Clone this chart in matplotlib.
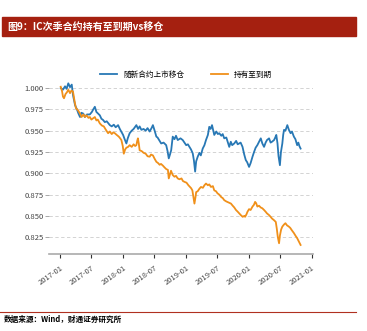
import matplotlib
matplotlib.use("Agg")
import matplotlib.pyplot as plt
import matplotlib.dates as mdates
import pandas as pd

plt.rcParams['font.family'] = ['Noto Sans CJK SC', 'DejaVu Sans']

title = "图9：IC次季合约持有至到期vs移仓"
source = "数据来源：Wind，财通证券研究所"
label_roll = "随新合约上市移仓"
label_hold = "持有至到期"

# 随新合约上市移仓
roll_dates = [
    "2017-01-05", "2017-01-18", "2017-01-30", "2017-02-08", "2017-02-18", "2017-02-28",
    "2017-03-10", "2017-03-17", "2017-03-29", "2017-04-09", "2017-04-18", "2017-04-27",
    "2017-05-05", "2017-05-16", "2017-05-25", "2017-06-06", "2017-06-23", "2017-07-05",
    "2017-07-13", "2017-07-22", "2017-07-31", "2017-08-10", "2017-08-20", "2017-08-29",
    "2017-09-08", "2017-09-18", "2017-09-29", "2017-10-17", "2017-10-28", "2017-11-09",
    "2017-11-20", "2017-12-04", "2017-12-14", "2017-12-22", "2018-01-02", "2018-01-11",
    "2018-01-21", "2018-01-29", "2018-02-09", "2018-02-21", "2018-03-04", "2018-03-20",
    "2018-03-30", "2018-04-08", "2018-04-18", "2018-05-01", "2018-05-13", "2018-05-24",
    "2018-06-05", "2018-06-16", "2018-06-24", "2018-07-04", "2018-07-14", "2018-07-21",
    "2018-08-02", "2018-08-11", "2018-08-25", "2018-09-09", "2018-09-17", "2018-09-24",
    "2018-10-01", "2018-10-08", "2018-10-17", "2018-10-27", "2018-11-05", "2018-11-15",
    "2018-12-01", "2018-12-14", "2018-12-24", "2019-01-03", "2019-01-13", "2019-01-22",
    "2019-01-31", "2019-02-10", "2019-02-17", "2019-02-24", "2019-03-02", "2019-03-11",
    "2019-03-21", "2019-03-29", "2019-04-09", "2019-04-19", "2019-04-28", "2019-05-09",
    "2019-05-17", "2019-05-25", "2019-06-02", "2019-06-09", "2019-06-15", "2019-06-27",
    "2019-07-06", "2019-07-14", "2019-07-26", "2019-08-03", "2019-08-12", "2019-08-24",
    "2019-09-01", "2019-09-10", "2019-09-19", "2019-09-27", "2019-10-09", "2019-10-20",
    "2019-10-29", "2019-11-07", "2019-11-15", "2019-11-26", "2019-12-06", "2019-12-15",
    "2019-12-23", "2019-12-29", "2020-01-03", "2020-01-12", "2020-01-23", "2020-02-01",
    "2020-02-10", "2020-02-20", "2020-03-01", "2020-03-11", "2020-03-20", "2020-03-30",
    "2020-04-08", "2020-04-16", "2020-04-28", "2020-05-07", "2020-05-15", "2020-05-27",
    "2020-06-03", "2020-06-09", "2020-06-16", "2020-06-22", "2020-06-30", "2020-07-06",
    "2020-07-14", "2020-07-19", "2020-07-24", "2020-08-01", "2020-08-12", "2020-08-21",
    "2020-08-31", "2020-09-08", "2020-09-19", "2020-09-28", "2020-10-08", "2020-10-15",
    "2020-10-21", "2020-10-28",
]
roll_values = [
    1.000, 0.998, 1.002, 0.999, 1.0055, 1.001,
    1.004, 0.992, 0.980, 0.975, 0.970, 0.966,
    0.971, 0.970, 0.966, 0.969, 0.969, 0.972,
    0.975, 0.978, 0.972, 0.970, 0.968, 0.964,
    0.9625, 0.960, 0.961, 0.9565, 0.955, 0.957,
    0.954, 0.9565, 0.952, 0.949, 0.945, 0.940,
    0.935, 0.941, 0.947, 0.950, 0.952, 0.9565,
    0.952, 0.955, 0.951, 0.952, 0.950, 0.953,
    0.949, 0.953, 0.9565, 0.950, 0.943, 0.942,
    0.938, 0.935, 0.936, 0.933, 0.926, 0.9175,
    0.922, 0.927, 0.943, 0.940, 0.944, 0.939,
    0.941, 0.939, 0.936, 0.933, 0.934, 0.931,
    0.928, 0.9235, 0.915, 0.902, 0.914, 0.9195,
    0.924, 0.921, 0.929, 0.933, 0.939, 0.945,
    0.9545, 0.952, 0.9565, 0.950, 0.945, 0.949,
    0.946, 0.947, 0.944, 0.946, 0.941, 0.942,
    0.937, 0.931, 0.937, 0.933, 0.935, 0.938,
    0.934, 0.935, 0.936, 0.931, 0.922, 0.9155,
    0.913, 0.910, 0.9075, 0.912, 0.9195, 0.925,
    0.930, 0.933, 0.937, 0.941, 0.935, 0.931,
    0.936, 0.939, 0.941, 0.936, 0.937, 0.939,
    0.942, 0.945, 0.935, 0.920, 0.9095, 0.925,
    0.935, 0.945, 0.951, 0.950, 0.9565, 0.951,
    0.947, 0.949, 0.943, 0.940, 0.933, 0.936,
    0.932, 0.929,
]

# 持有至到期
hold_dates = [
    "2017-01-05", "2017-01-13", "2017-01-18", "2017-01-24", "2017-02-02", "2017-02-10",
    "2017-02-18", "2017-02-28", "2017-03-08", "2017-03-17", "2017-03-26", "2017-04-03",
    "2017-04-15", "2017-04-27", "2017-05-06", "2017-05-17", "2017-05-25", "2017-06-04",
    "2017-06-15", "2017-06-23", "2017-07-02", "2017-07-12", "2017-07-22", "2017-07-31",
    "2017-08-08", "2017-08-20", "2017-09-01", "2017-09-12", "2017-09-24", "2017-10-07",
    "2017-10-17", "2017-10-28", "2017-11-06", "2017-11-15", "2017-11-26", "2017-12-08",
    "2017-12-16", "2017-12-23", "2017-12-31", "2018-01-06", "2018-01-14", "2018-01-21",
    "2018-01-31", "2018-02-09", "2018-02-21", "2018-03-04", "2018-03-13", "2018-03-20",
    "2018-03-25", "2018-03-29", "2018-04-03", "2018-04-08", "2018-04-20", "2018-05-01",
    "2018-05-13", "2018-05-24", "2018-06-05", "2018-06-13", "2018-06-24", "2018-07-04",
    "2018-07-14", "2018-07-24", "2018-08-02", "2018-08-10", "2018-08-21", "2018-08-30",
    "2018-09-09", "2018-09-19", "2018-09-24", "2018-10-01", "2018-10-07", "2018-10-17",
    "2018-10-27", "2018-11-05", "2018-11-15", "2018-11-25", "2018-12-07", "2018-12-15",
    "2018-12-24", "2019-01-05", "2019-01-16", "2019-01-25", "2019-02-01", "2019-02-08",
    "2019-02-14", "2019-02-20", "2019-02-26", "2019-03-02", "2019-03-11", "2019-03-21",
    "2019-03-30", "2019-04-10", "2019-04-19", "2019-04-28", "2019-05-09", "2019-05-17",
    "2019-05-27", "2019-06-07", "2019-06-15", "2019-06-25", "2019-07-04", "2019-07-14",
    "2019-07-26", "2019-08-03", "2019-08-12", "2019-08-24", "2019-09-04", "2019-09-20",
    "2019-09-30", "2019-10-09", "2019-10-19", "2019-10-29", "2019-11-07", "2019-11-16",
    "2019-11-27", "2019-12-06", "2019-12-11", "2019-12-19", "2019-12-25", "2020-01-03",
    "2020-01-12", "2020-01-23", "2020-01-31", "2020-02-07", "2020-02-13", "2020-02-20",
    "2020-03-01", "2020-03-10", "2020-03-20", "2020-03-30", "2020-04-08", "2020-04-16",
    "2020-04-28", "2020-05-07", "2020-05-15", "2020-05-27", "2020-06-06", "2020-06-12",
    "2020-06-18", "2020-06-25", "2020-06-30", "2020-07-07", "2020-07-14", "2020-07-24",
    "2020-08-01", "2020-08-10", "2020-08-21", "2020-08-29", "2020-09-08", "2020-09-19",
    "2020-09-28", "2020-10-08", "2020-10-18", "2020-10-28",
]
hold_values = [
    1.0015, 0.996, 0.990, 0.988, 0.993, 0.995,
    0.998, 0.994, 0.997, 0.996, 0.985, 0.9765,
    0.974, 0.970, 0.966, 0.969, 0.966, 0.968,
    0.965, 0.966, 0.963, 0.9645, 0.966, 0.962,
    0.963, 0.9585, 0.956, 0.955, 0.951, 0.947,
    0.949, 0.946, 0.948, 0.947, 0.945, 0.943,
    0.941, 0.939, 0.932, 0.923, 0.928, 0.930,
    0.931, 0.933, 0.931, 0.934, 0.932, 0.933,
    0.938, 0.941, 0.935, 0.927, 0.926, 0.924,
    0.923, 0.920, 0.9195, 0.922, 0.921, 0.917,
    0.9135, 0.912, 0.910, 0.911, 0.909, 0.907,
    0.905, 0.904, 0.894, 0.899, 0.903, 0.898,
    0.896, 0.897, 0.894, 0.893, 0.894, 0.891,
    0.890, 0.889, 0.886, 0.884, 0.8825, 0.880,
    0.872, 0.8645, 0.872, 0.878, 0.879, 0.882,
    0.884, 0.883, 0.886, 0.888, 0.886, 0.887,
    0.884, 0.885, 0.880, 0.879, 0.8765, 0.875,
    0.872, 0.871, 0.8685, 0.867, 0.866, 0.8645,
    0.862, 0.860, 0.857, 0.855, 0.853, 0.851,
    0.849, 0.850, 0.849, 0.852, 0.855, 0.858,
    0.857, 0.861, 0.863, 0.8665, 0.865, 0.861,
    0.862, 0.860, 0.859, 0.857, 0.855, 0.853,
    0.851, 0.849, 0.847, 0.845, 0.843, 0.835,
    0.825, 0.818, 0.827, 0.834, 0.8375, 0.840,
    0.8415, 0.839, 0.8375, 0.836, 0.833, 0.830,
    0.827, 0.824, 0.820, 0.816,
]

yticks = [0.825, 0.850, 0.875, 0.900, 0.925, 0.950, 0.975, 1.000]

fig = plt.figure(figsize=(3.67, 3.31), dpi=100)
fig.patch.set_facecolor('white')

# title banner
fig.patches.append(plt.Rectangle((0.006, 1 - 36 / 331), 0.965, 19 / 331,
                                 transform=fig.transFigure, color='#A52010', zorder=0))
fig.text(0.02, 1 - 27 / 331, title, color='white', fontsize=7.2, fontweight='bold',
         va='center', ha='left')

ax = fig.add_axes([49 / 367, 1 - 254 / 331, 264 / 367, 174 / 331])
ax.plot(pd.to_datetime(roll_dates), roll_values, color='#2878b5', lw=1.3, label=label_roll)
ax.plot(pd.to_datetime(hold_dates), hold_values, color='#f0901a', lw=1.3, label=label_hold)

ax.set_ylim(0.8054, 1.0094)
ax.set_xlim(pd.Timestamp("2016-10-29"), pd.Timestamp("2021-01-08"))
ax.set_yticks(yticks)
ax.set_yticklabels(["%.3f" % v for v in yticks], fontsize=5.5, color='#444444')
ax.yaxis.grid(True, linestyle=(0, (4, 3)), color='#cccccc', lw=0.6)

ax.xaxis.set_major_locator(mdates.MonthLocator(bymonth=[1, 7]))
ax.xaxis.set_major_formatter(mdates.DateFormatter('%Y-%m'))
for lab in ax.get_xticklabels():
    lab.set_rotation(35)
    lab.set_ha('right')
    lab.set_rotation_mode('anchor')
    lab.set_fontsize(5.5)
    lab.set_color('#444444')

for s in ['left', 'right', 'top']:
    ax.spines[s].set_visible(False)
ax.spines['bottom'].set_color('#aaaaaa')
ax.spines['bottom'].set_linewidth(1.2)
ax.tick_params(axis='x', length=3, width=0.8, color='#333333', pad=4)
ax.tick_params(axis='y', length=3, width=0.6, color='#999999', pad=1)

leg = ax.legend(loc='center', bbox_to_anchor=(0.52, 1.03), ncol=2, frameon=False,
                fontsize=5.5, handlelength=2.2, columnspacing=3.5, borderaxespad=0)

# source line
fig.add_artist(plt.Line2D([0.0, 0.97], [1 - 312 / 331] * 2, color='#B03020', lw=0.8,
                          transform=fig.transFigure))
fig.text(0.01, 1 - 319 / 331, source, fontsize=5.5, fontweight='bold', va='center', ha='left')

fig.savefig('out.png', dpi=100)
